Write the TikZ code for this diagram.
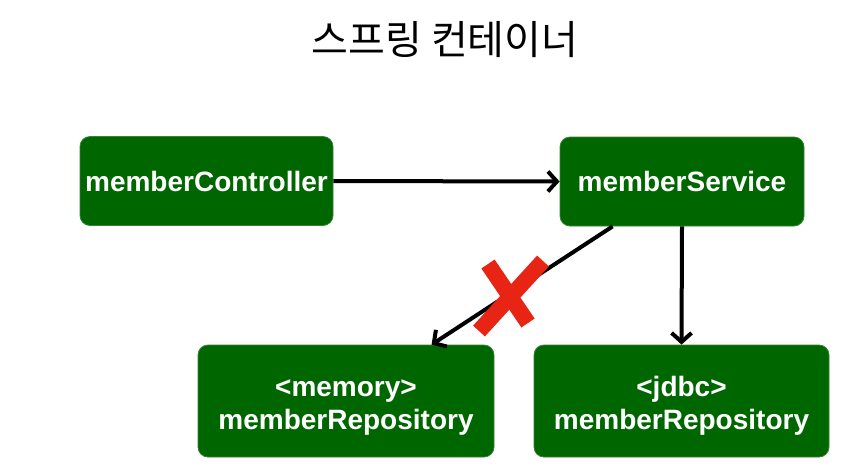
\documentclass[tikz,border=0pt]{standalone}
\usepackage{fontspec}
\setmainfont{Liberation Sans}
\newfontfamily\krfont{Noto Sans CJK KR}
\usetikzlibrary{arrows.meta}
\definecolor{boxgreen}{RGB}{0,102,0}
\definecolor{xred}{RGB}{232,36,20}
\begin{document}
\begin{tikzpicture}[x=1pt,y=-1pt,
  gbox/.style={fill=boxgreen, draw=boxgreen!80!white, line width=0.8pt, rounded corners=10pt,
     text=white, font=\fontsize{28}{33}\selectfont\bfseries, align=center, inner sep=0pt},
  conn/.style={line width=4pt, -{Straight Barb[length=9pt,width=20pt,line width=4pt]}}]
\useasboundingbox (0,0) rectangle (842,467);
\node[font=\krfont\fontsize{40}{44}\selectfont] (title) at (445,40) {스프링 컨테이너};
\node[gbox, minimum width=253pt, minimum height=89pt] (ctrl) at (206.5,181) {memberController};
\node[gbox, minimum width=244pt, minimum height=89pt] (serv) at (682,181.5) {memberService};
\node[gbox, minimum width=296pt, minimum height=112pt] (mem) at (346,401) {\rule{0pt}{30pt}<memory>\\memberRepository};
\node[gbox, minimum width=295pt, minimum height=112pt] (jdbc) at (681.5,401) {\rule{0pt}{30pt}<jdbc>\\memberRepository};
\draw[conn] (ctrl.east) -- (serv.west);
\draw[conn] ([xshift=53pt]serv.south west) -- ([xshift=234pt]mem.north west);
\draw[conn] (serv.south) -- (jdbc.north);
\draw[xred, line width=16pt] (488,264) -- (528,323);
\draw[xred, line width=16pt] (543,261) -- (479,331);
\end{tikzpicture}
\end{document}
